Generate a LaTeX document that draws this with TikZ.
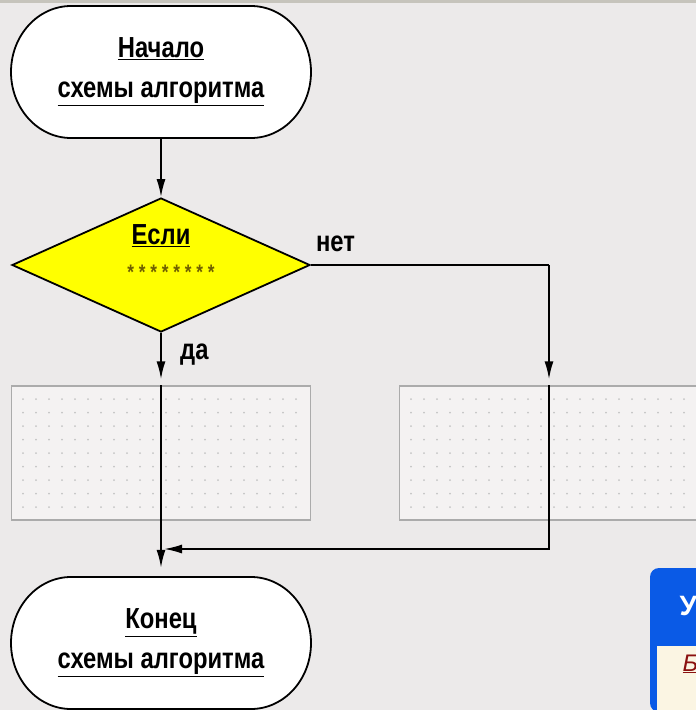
\documentclass[tikz,border=0pt]{standalone}
\usepackage{fontspec}
\setmainfont{Liberation Sans}
\newfontfamily\narrowfont[FakeStretch=0.82]{Liberation Sans}
\usetikzlibrary{arrows.meta}
\usetikzlibrary{positioning}
\usetikzlibrary{shapes.geometric}

\definecolor{panelgrey}{HTML}{ECEAEA}
\definecolor{framegrey}{HTML}{C6C4BC}
\definecolor{boxgrey}{HTML}{ABABAB}
\definecolor{dotgrey}{HTML}{C4C4C4}
\definecolor{condyellow}{HTML}{FFFF00}
\definecolor{stargold}{HTML}{6E5E00}
\definecolor{winblue}{HTML}{0A5AE6}
\definecolor{wincream}{HTML}{FBF5E3}
\definecolor{linkred}{HTML}{8A1010}

\tikzset{
  terminal/.pic={
    \draw[fill=white, line width=1.8pt]
      (-90pt,66pt) -- (90pt,66pt)
      arc[start angle=90, end angle=-90, x radius=60pt, y radius=66pt]
      -- (-90pt,-66pt)
      arc[start angle=270, end angle=90, x radius=60pt, y radius=66pt] -- cycle;
  }
}

\begin{document}
\begin{tikzpicture}[x=1pt, y=1pt,
    bigtext/.style={font=\narrowfont\bfseries\fontsize{29}{40}\selectfont},
    termnode/.style={bigtext, align=center, inner sep=0pt,
      minimum width=300pt, minimum height=132pt},
    decision/.style={bigtext, diamond, draw, fill=condyellow, line width=1.8pt,
      inner sep=0pt, minimum width=298pt, minimum height=134pt},
    gridbox/.style={draw=boxgrey, fill=panelgrey!60!white, line width=1.4pt,
      minimum width=299pt, minimum height=134pt},
    branchlabel/.style={bigtext, inner sep=0pt},
    conn/.style={line width=1.8pt},
    flow/.style={conn, -{Latex[length=18pt, width=9pt]}}
  ]
  \useasboundingbox (0,0) rectangle (696,-710);
  \fill[panelgrey] (0,0) rectangle (696,-710);
  \fill[framegrey] (0,0) rectangle (696,-3);

  % dotted working areas
  \node[gridbox] (blockA) at (161,-453) {};
  \node[gridbox] (blockB) at (549,-453) {};
  \foreach \y in {-399,-412.5,...,-508}
  {
    \foreach \x in {23,36,...,300}
      \fill[dotgrey] (\x,\y) circle (1pt);
    \foreach \x in {411,424,...,696}
      \fill[dotgrey] (\x,\y) circle (1pt);
  }

  % terminals and condition
  \pic at (161,-72) {terminal};
  \node[termnode] (start) at (161,-72) {\underline{Начало}\\\underline{схемы алгоритма}};
  \pic at (161,-643) {terminal};
  \node[termnode] (stop) at (161,-643) {\underline{Конец}\\\underline{схемы алгоритма}};
  \node[decision] (cond) at (161,-265)
    {\raisebox{5pt}[0pt][0pt]{\begin{tabular}{@{}c@{}}
       \underline{Если}\\[-5pt]
       \hspace*{20pt}{\color{stargold}\fontsize{21}{21}\selectfont * * * * * * * *}
     \end{tabular}}};

  \node[branchlabel, anchor=south west] (no) at ([shift={(5pt,13pt)}]cond.east) {нет};
  \node[branchlabel, anchor=north west] (yes) at ([shift={(19pt,-11pt)}]cond.south) {да};

  % connectors
  \coordinate (turn) at (blockB.north |- cond.east);
  \coordinate (merge) at (cond.south |- 0,-549);
  \draw[flow] (start) -- (cond);
  \draw[flow, shorten >=6pt] (cond.south) -- (blockA.north);
  \draw[conn] (blockA.north) -- (blockA.south) -- (merge);
  \draw[flow, shorten >=9pt] (merge) -- (stop.north);
  \draw[conn] (cond.east) -- (turn);
  \draw[flow, shorten >=6pt] (turn) -- (blockB.north);
  \draw[conn] (blockB.north) -- (blockB.south);
  \draw[flow, shorten >=3pt] (blockB.south) |- (merge);

  % window corner
  \begin{scope}
    \clip (0,0) rectangle (696,-710);
    \fill[winblue, rounded corners=9pt] (650,-712) -- (650,-568) -- (720,-568) -- (720,-712) -- cycle;
    \fill[wincream] (657,-646) rectangle (720,-712);
    \node[text=white, font=\bfseries\fontsize{28}{28}\selectfont, anchor=west] (wintitle) at (676,-606) {У};
    \node[text=linkred, font=\itshape\fontsize{24}{24}\selectfont, anchor=west] (winlink) at (679,-664) {\underline{Б}};
  \end{scope}
\end{tikzpicture}
\end{document}
